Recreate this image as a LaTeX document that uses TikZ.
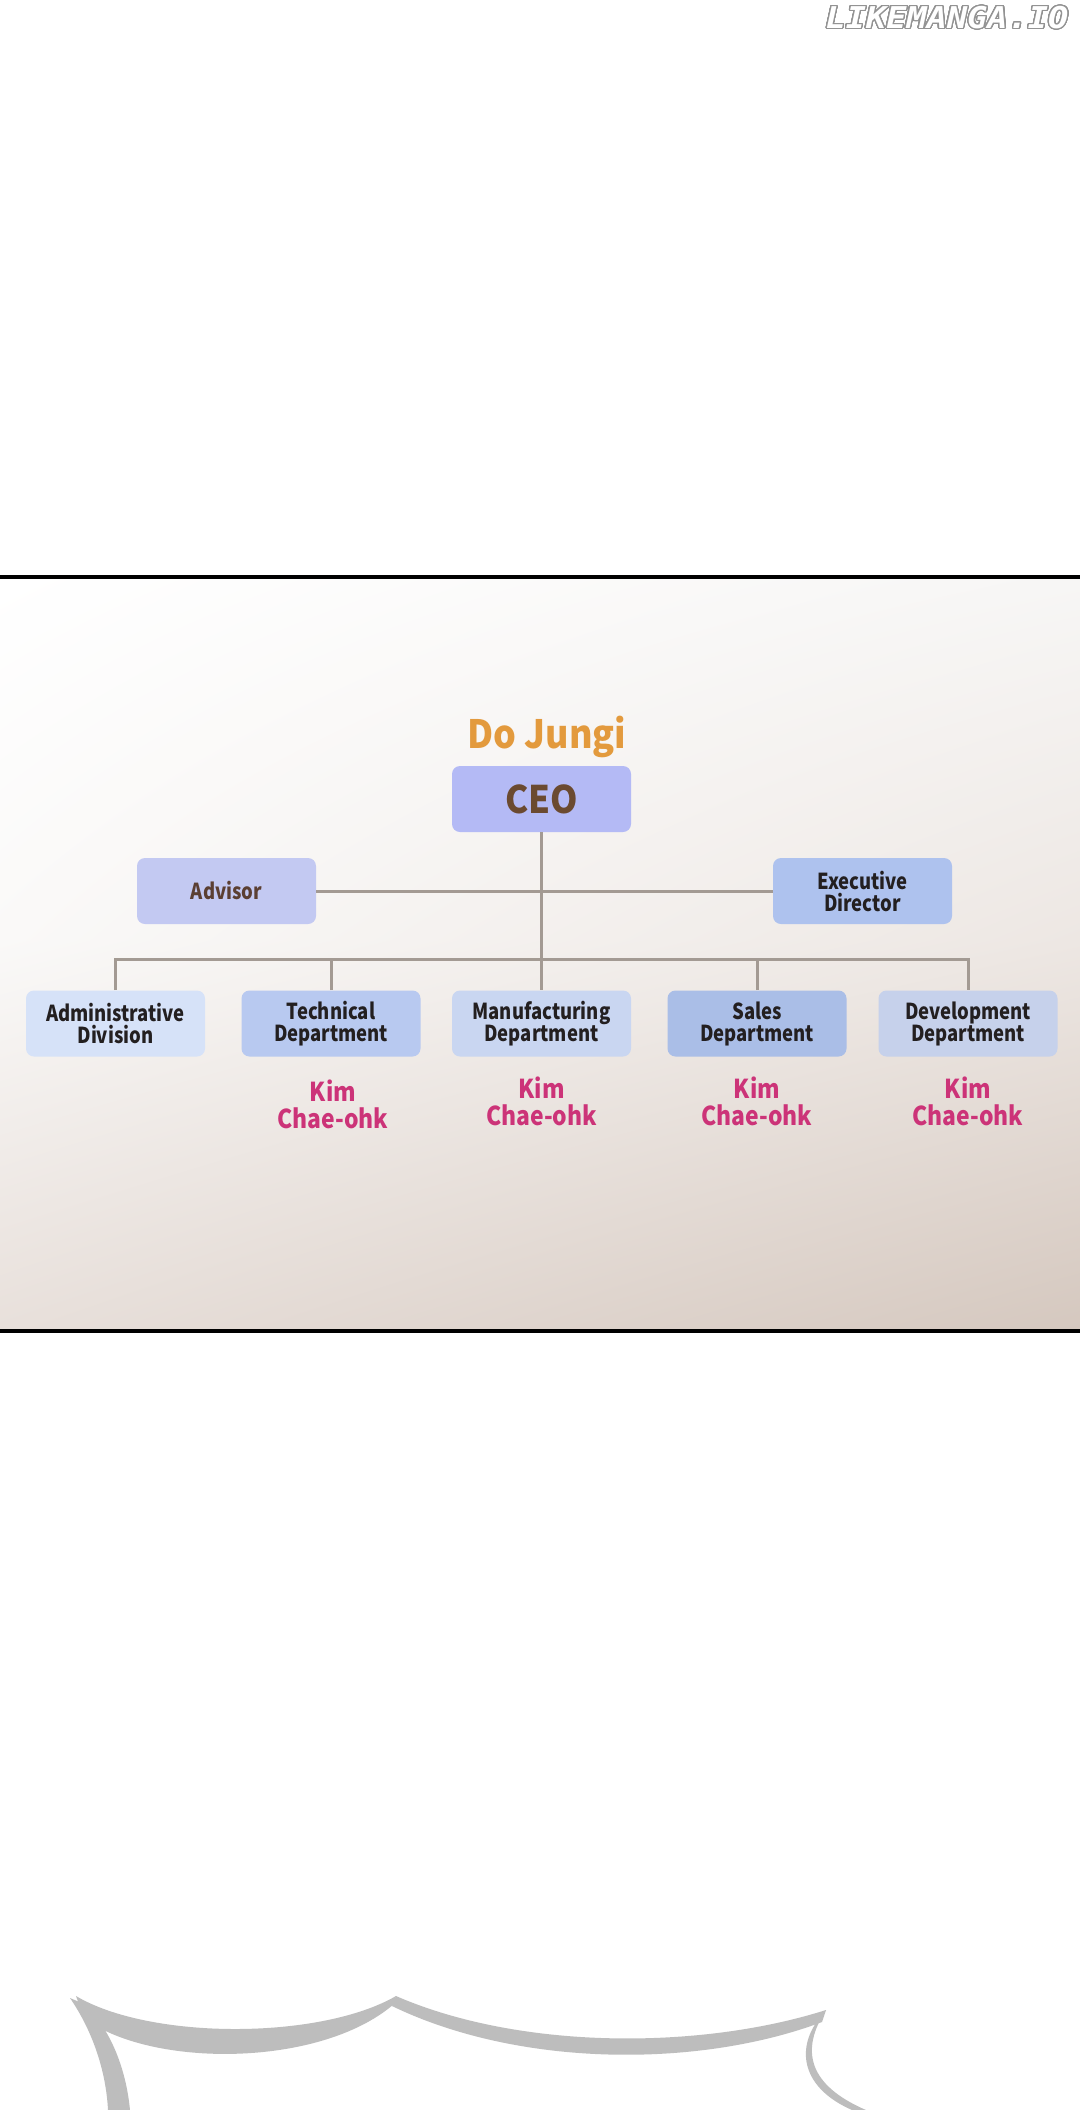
\documentclass[tikz,border=0pt]{standalone}
\usepackage{fontspec}
\usepackage{graphicx}
\usepackage[copies]{contour}
\setmainfont{Noto Sans CJK KR}
\newfontfamily\boxfont{Noto Sans CJK KR}[FakeStretch=0.84]
\newfontfamily\namefont{Noto Sans CJK KR}[FakeStretch=0.88]
\newfontfamily\titlefont{Noto Sans CJK KR}[FakeStretch=0.92]
\newfontfamily\markfont{DejaVu Sans Mono}
\usetikzlibrary{positioning, shadings}
\definecolor{orgline}{HTML}{A39A93}
\definecolor{orgink}{HTML}{231F20}
\definecolor{nameorange}{HTML}{E39A3D}
\definecolor{namepink}{HTML}{CC3378}
\definecolor{ceobrown}{HTML}{6B4A30}
\definecolor{advbrown}{HTML}{5B3F33}
\definecolor{ceofill}{HTML}{B4BAF5}
\definecolor{advfill}{HTML}{C3C9F2}
\definecolor{execfill}{HTML}{AEC2EE}
\definecolor{adminfill}{HTML}{D6E2F8}
\definecolor{techfill}{HTML}{B8C9F0}
\definecolor{manuffill}{HTML}{C9D6F1}
\definecolor{salesfill}{HTML}{AABEE7}
\definecolor{devfill}{HTML}{C6D1EB}
\definecolor{panelul}{HTML}{FFFFFF}
\definecolor{panelur}{HTML}{F7F6F5}
\definecolor{panelml}{HTML}{FAF9F8}
\definecolor{panelmr}{HTML}{EDE7E3}
\definecolor{panelll}{HTML}{E8E0DB}
\definecolor{panellr}{HTML}{D5C8BF}
\definecolor{bubblegray}{HTML}{BDBDBD}
\contourlength{0.6pt}
\contournumber{32}

\begin{document}
\begin{tikzpicture}[x=0.5pt, y=-0.5pt,
                    every node/.style={orgink},
                    unit/.style={rounded corners=4pt, minimum width=89.5pt,
                                 minimum height=33pt, inner sep=0pt, align=center,
                                 font=\boxfont\fontsize{11}{11}\selectfont\bfseries},
                    holder/.style={namepink, align=center,
                                   font=\namefont\fontsize{13}{13.5}\selectfont\bfseries},
                    link/.style={orgline, line width=1.5pt},
                    ribbon/.style={bubblegray}]

  %% page and frame
  \useasboundingbox (0,0) rectangle (1080,2110);
  \fill[white] (0,0) rectangle (1080,2110);
  \shade[upper left=panelul, upper right=panelur,
         lower left=panelml, lower right=panelmr]
    (0,579) rectangle (1080,940);
  \shade[upper left=panelml, upper right=panelmr,
         lower left=panelll, lower right=panellr]
    (0,940) rectangle (1080,1329);
  \draw[black, line width=2pt] (0,577) -- (1080,577);
  \draw[black, line width=2pt] (0,1331) -- (1080,1331);

  %% watermark
  \node[inner sep=0pt] (mark) at (947,18)
    {\scalebox{1.12}[1]{\contour{gray!85}{\textcolor{white}{\fontsize{15}{15}\markfont\bfseries\itshape LIKEMANGA.IO}}}};

  %% top of the chart
  \node[nameorange, font=\titlefont\fontsize{19.5}{19.5}\selectfont\bfseries] (boss) at (547,737) {Do Jungi};
  \node[unit, fill=ceofill, text=ceobrown, font=\titlefont\fontsize{19}{19}\selectfont\bfseries] (ceo) at (541.5,799) {CEO};
  \node[unit, fill=advfill, text=advbrown] (advisor) at (226.5,891) {Advisor};
  \node[unit, fill=execfill] (exec) at (862.5,891) {Executive\\Director};

  %% departments
  \node[unit, fill=adminfill] (admin) at (115.5,1023.5) {Administrative\\Division};
  \node[unit, fill=techfill]  (tech)  at (331,1023.5)   {Technical\\Department};
  \node[unit, fill=manuffill] (manuf) at (541.5,1023.5) {Manufacturing\\Department};
  \node[unit, fill=salesfill] (sales) at (757,1023.5)   {Sales\\Department};
  \node[unit, fill=devfill]   (dev)   at (968,1023.5)   {Development\\Department};

  %% connectors
  \coordinate (bus) at (541.5,959);
  \draw[link] (advisor.east) -- (exec.west);
  \draw[link] (ceo.south) -- (manuf.north);
  \draw[link] (admin.north) |- (bus) -| (dev.north);
  \draw[link] (tech.north) -- (tech.north |- bus);
  \draw[link] (sales.north) -- (sales.north |- bus);

  %% people in charge
  \node[holder] (techname)  at (333,1104)   {Kim\\Chae-ohk};
  \node[holder] (manufname) at (541.5,1101) {Kim\\Chae-ohk};
  \node[holder] (salesname) at (757,1101)   {Kim\\Chae-ohk};
  \node[holder] (devname)   at (968,1101)   {Kim\\Chae-ohk};

  %% speech bubble cut by the page edge
  \fill[ribbon] (76,1996) .. controls (150,2040) and (320,2040) .. (396,1996)
             -- (394,2004) .. controls (320,2068) and (150,2068) .. (84,2018) -- cycle;
  \fill[ribbon] (396,1996) .. controls (520,2050) and (700,2050) .. (826,2010)
             -- (822,2022) .. controls (700,2068) and (520,2068) .. (392,2006) -- cycle;
  \fill[ribbon] (826,2010) .. controls (800,2050) and (808,2085) .. (866,2110)
             -- (852,2110) .. controls (802,2088) and (796,2050) .. (818,2020) -- cycle;
  \fill[ribbon] (70,1998) .. controls (92,2030) and (106,2070) .. (108,2110)
             -- (130,2110) .. controls (126,2068) and (110,2028) .. (84,2004) -- cycle;

\end{tikzpicture}
\end{document}
